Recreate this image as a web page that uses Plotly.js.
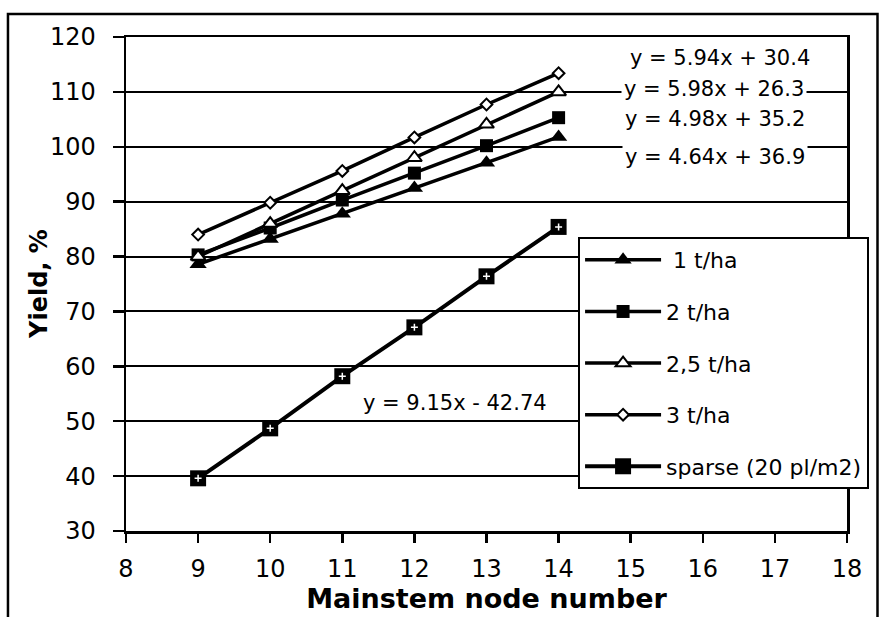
<!DOCTYPE html>
<html>
<head>
<meta charset="utf-8">
<script src="https://cdn.plot.ly/plotly-3.0.1.min.js"></script>
<style>
  html, body { margin: 0; padding: 0; background: #ffffff; }
  #chart { width: 881px; height: 617px; }
</style>
</head>
<body>
<div id="chart"></div>
<script>
// ---- data ----
var nodeNumbers = [9, 10, 11, 12, 13, 14];
var yield1tha   = [78.6, 83.2, 87.8, 92.5, 97.1, 101.8];
var yield2tha   = [80.3, 85.2, 90.3, 95.2, 100.2, 105.3];
var yield25tha  = [80.0, 86.0, 92.0, 98.0, 104.1, 110.0];
var yield3tha   = [84.0, 89.8, 95.6, 101.7, 107.7, 113.4];
var yieldSparse = [39.6, 48.7, 58.2, 67.1, 76.4, 85.4];

var seriesNames = [' 1 t/ha', '2 t/ha', '2,5 t/ha', '3 t/ha', 'sparse (20 pl/m2)'];
var equationTexts = ['y = 5.94x + 30.4', 'y = 5.98x + 26.3', 'y = 4.98x + 35.2', 'y = 4.64x + 36.9', 'y = 9.15x - 42.74'];

var xTickVals = [8, 9, 10, 11, 12, 13, 14, 15, 16, 17, 18];
var yTickVals = [30, 40, 50, 60, 70, 80, 90, 100, 110, 120];
var xTitle = 'Mainstem node number';
var yTitle = 'Yield, %';

// ---- traces ----
var LW = 3.5;
var traces = [
  {
    x: nodeNumbers, y: yield1tha, name: seriesNames[0], legendgroup: 'g1',
    mode: 'lines+markers', type: 'scatter',
    line: { color: '#000', width: LW },
    marker: { symbol: 'triangle-up', size: 15, color: '#000' }
  },
  {
    x: nodeNumbers, y: yield2tha, name: seriesNames[1], legendgroup: 'g2',
    mode: 'lines+markers', type: 'scatter',
    line: { color: '#000', width: LW },
    marker: { symbol: 'square', size: 13, color: '#000' }
  },
  {
    x: nodeNumbers, y: yield25tha, name: seriesNames[2], legendgroup: 'g3',
    mode: 'lines+markers', type: 'scatter',
    line: { color: '#000', width: LW },
    marker: { symbol: 'triangle-up', size: 13, color: '#fff', line: { color: '#000', width: 2 } }
  },
  {
    x: nodeNumbers, y: yield3tha, name: seriesNames[3], legendgroup: 'g4',
    mode: 'lines+markers', type: 'scatter',
    line: { color: '#000', width: LW },
    marker: { symbol: 'diamond', size: 9, color: '#fff', line: { color: '#000', width: 2 } }
  },
  {
    x: nodeNumbers, y: yieldSparse, name: seriesNames[4], legendgroup: 'g5',
    mode: 'lines+markers', type: 'scatter',
    line: { color: '#000', width: 4 },
    marker: { symbol: 'square', size: 16, color: '#000' }
  },
  {
    x: nodeNumbers, y: yieldSparse, name: 'sparse-dot', showlegend: false, hoverinfo: 'skip',
    mode: 'markers', type: 'scatter',
    marker: { symbol: 'cross-thin', size: 5, color: '#fff', line: { color: '#fff', width: 1.5 } }
  }
];

// ---- equation labels ----
var eqPos = [
  { x: 16.24, y: 116.1 },
  { x: 16.15, y: 110.6 },
  { x: 16.17, y: 105.0 },
  { x: 16.17, y: 98.2 },
  { x: 12.56, y: 53.4 }
];
var annotations = equationTexts.map(function (t, i) {
  return {
    x: eqPos[i].x, y: eqPos[i].y, xref: 'x', yref: 'y',
    text: t, showarrow: false, xanchor: 'center', yanchor: 'middle',
    bgcolor: '#ffffff', borderpad: 2,
    font: { family: 'DejaVu Sans, sans-serif', size: 21, color: '#000' }
  };
});
// y-axis title (placed as a rotated annotation for exact position)
annotations.push({
  xref: 'paper', yref: 'paper', x: -0.1207, y: 0.5,
  xanchor: 'center', yanchor: 'middle', textangle: -90,
  text: yTitle, showarrow: false,
  font: { family: 'DejaVu Sans, sans-serif', size: 24, weight: 'bold', color: '#000' }
});

var layout = {
  width: 881, height: 617,
  margin: { l: 126, r: 34, t: 37, b: 86, pad: 0 },
  paper_bgcolor: '#ffffff', plot_bgcolor: '#ffffff',
  font: { family: 'DejaVu Sans, sans-serif', color: '#000' },
  showlegend: true,
  xaxis: {
    range: [8, 18], tickvals: xTickVals, ticktext: xTickVals.map(String),
    showgrid: false, zeroline: false,
    showline: true, linecolor: '#000', linewidth: 2.5, mirror: true,
    ticks: 'outside', ticklen: 9, tickwidth: 2.5, tickcolor: '#000',
    ticklabelstandoff: 6,
    tickfont: { family: 'DejaVu Sans, sans-serif', size: 24, color: '#000' },
    title: { text: xTitle, standoff: 1,
             font: { family: 'DejaVu Sans, sans-serif', size: 27, weight: 'bold', color: '#000' } },
    automargin: false
  },
  yaxis: {
    range: [30, 120], tickvals: yTickVals, ticktext: yTickVals.map(String),
    showgrid: true, gridcolor: '#000', gridwidth: 2, zeroline: false,
    showline: true, linecolor: '#000', linewidth: 2.5, mirror: true,
    ticks: 'outside', ticklen: 11, tickwidth: 2.5, tickcolor: '#000',
    ticklabelstandoff: 12,
    tickfont: { family: 'DejaVu Sans, sans-serif', size: 24, color: '#000' },
    automargin: false
  },
  legend: {
    x: 0.627, y: 0.595, xanchor: 'left', yanchor: 'top',
    bgcolor: '#ffffff', bordercolor: '#000', borderwidth: 2,
    font: { family: 'DejaVu Sans, sans-serif', size: 22, color: '#000' },
    traceorder: 'grouped', tracegroupgap: 20, itemwidth: 76,
    itemclick: false, itemdoubleclick: false
  },
  annotations: annotations,
  shapes: [
    { type: 'rect', xref: 'paper', yref: 'paper',
      x0: -0.1637, x1: 1.0423, y0: -0.25, y1: 1.0466,
      line: { color: '#000', width: 2.5 }, fillcolor: 'rgba(0,0,0,0)', layer: 'above' }
  ]
};

Plotly.newPlot('chart', traces, layout, { staticPlot: true, displayModeBar: false });
</script>
</body>
</html>
